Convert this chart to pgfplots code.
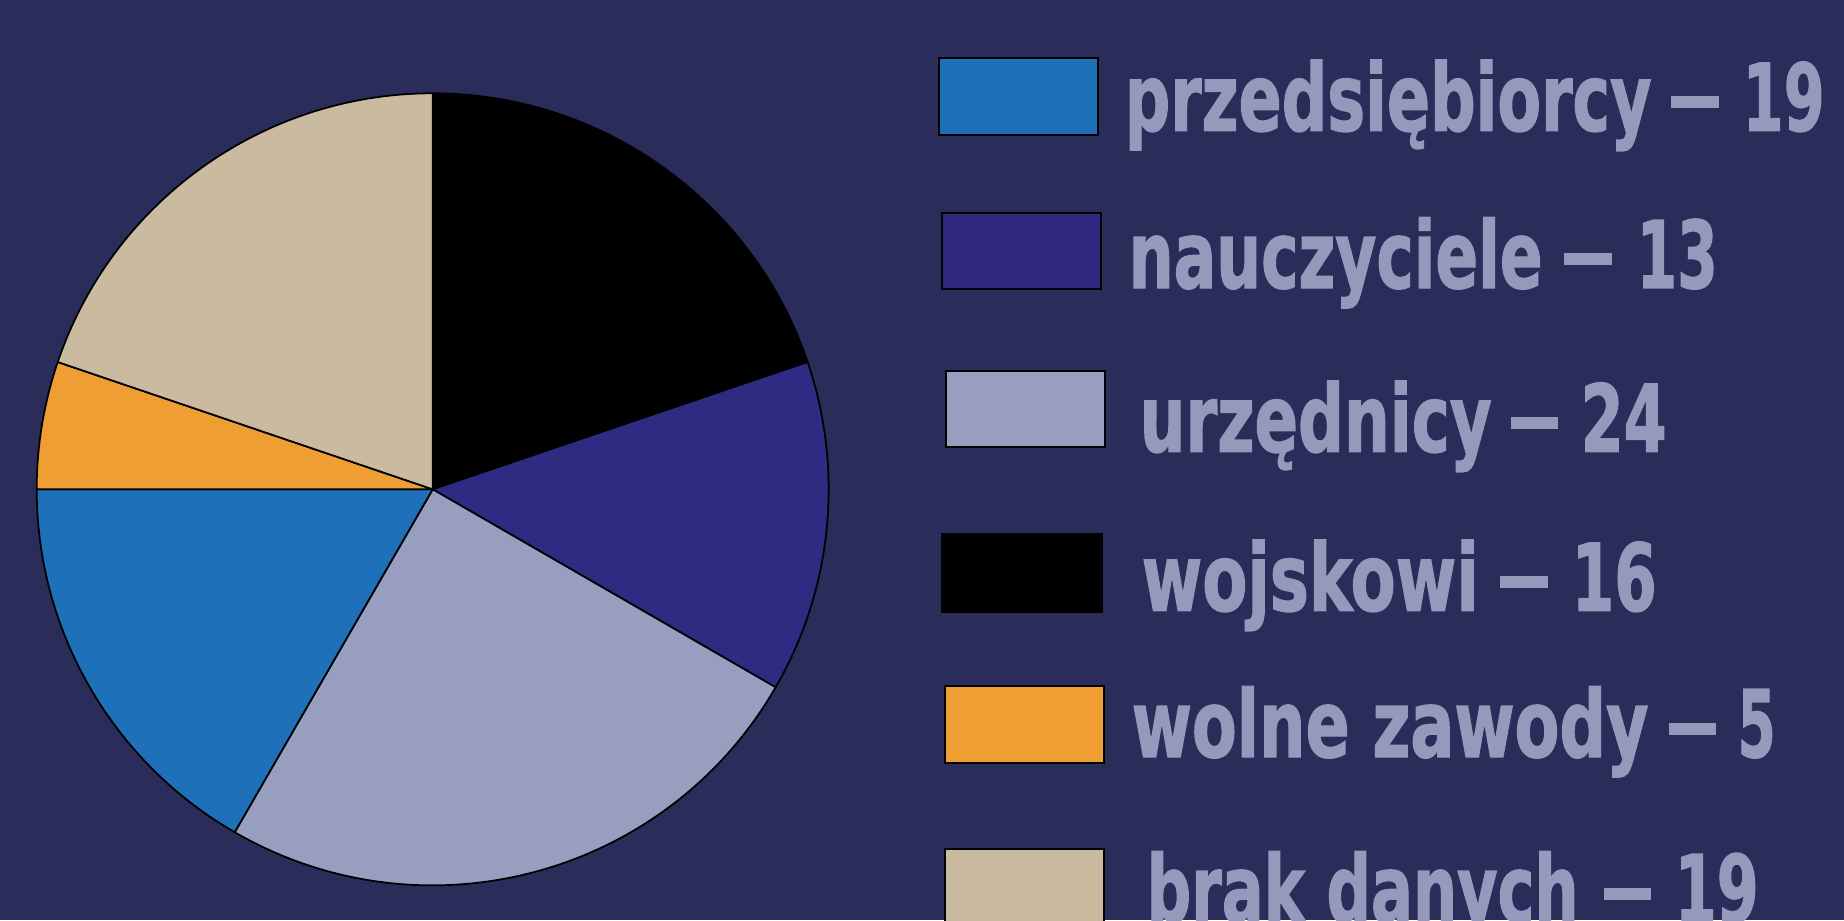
\documentclass[border=0pt]{standalone}
\usepackage{pgfplots}
\pgfplotsset{compat=1.18}
\usepackage{pgfplotstable}
\usepackage{graphicx}
\usepackage{fontspec}
\newfontfamily\legfont{DejaVu Sans Condensed}[BoldFeatures={FakeBold=1.5}]
\definecolor{bg}{HTML}{2A2D5A}
\definecolor{ctext}{HTML}{9599BB}
\definecolor{cblack}{HTML}{000000}
\definecolor{cnavy}{HTML}{2D2B82}
\definecolor{cnavyleg}{HTML}{312680}
\definecolor{clight}{HTML}{989EC0}
\definecolor{cblue}{HTML}{1E71B8}
\definecolor{corange}{HTML}{EE9E33}
\definecolor{cbeige}{HTML}{CABAA0}

% pie slices in drawing order (clockwise from 12 o'clock), as drawn in the chart
\pgfplotstableread{
value color
19 cblack
13 cnavy
24 clight
16 cblue
5 corange
19 cbeige
}\piedata

\newcommand\leg[2]{\resizebox{#1}{\height}{\fontsize{26.5}{30}\selectfont\legfont\bfseries #2}}
% legend line: baseline y, word x, word width, word, dash x1, dash x2, number x, number width, number
\newcommand\legline[9]{%
  \node[anchor=base west, inner sep=0pt, text=ctext] at (#2,#1) {\leg{#3cm}{#4}};
  \fill[ctext] (#5,#1+0.225) rectangle (#6,#1+0.345);
  \node[anchor=base west, inner sep=0pt, text=ctext] at (#7,#1) {\leg{#8cm}{#9}};
}

% precompute total
\pgfplotstablegetrowsof{\piedata}
\pgfmathtruncatemacro\nrows{\pgfplotsretval-1}
\def\pietotal{0}
\pgfplotsforeachungrouped \i in {0,...,\nrows}{%
  \pgfplotstablegetelem{\i}{value}\of\piedata
  \pgfmathsetmacro\pietotal{\pietotal+\pgfplotsretval}%
}

\begin{document}
\begin{tikzpicture}
\clip (0,0) rectangle (18.44,9.2);
\fill[bg] (0,0) rectangle (18.44,9.2);
\begin{axis}[at={(4.327cm,4.307cm)}, anchor=center, x=3.96cm, y=3.96cm,
  xmin=-1, xmax=1, ymin=-1, ymax=1, hide axis, clip=false, scale only axis]
\def\piecum{0}
\pgfplotsforeachungrouped \i in {0,...,\nrows}{%
  \pgfplotstablegetelem{\i}{value}\of\piedata
  \let\pieval\pgfplotsretval
  \pgfplotstablegetelem{\i}{color}\of\piedata
  \let\piecol\pgfplotsretval
  \pgfmathsetmacro\angA{90-\piecum/\pietotal*360}%
  \pgfmathsetmacro\angB{90-(\piecum+\pieval)/\pietotal*360}%
  \pgfmathsetmacro\pieX{cos(\angA)}%
  \pgfmathsetmacro\pieY{sin(\angA)}%
  \edef\doslice{\noexpand\filldraw[fill=\piecol,draw=black,line width=0.5pt,line join=round] (axis cs:0,0) -- (axis cs:\pieX,\pieY) arc[start angle=\angA,end angle=\angB,radius=1] -- cycle;}%
  \doslice
  \pgfmathsetmacro\piecum{\piecum+\pieval}%
}
\end{axis}
% legend
\filldraw[fill=cblue, draw=black, line width=0.8pt] (9.39,7.85) rectangle (10.98,8.62);
\filldraw[fill=cnavyleg, draw=black, line width=0.8pt] (9.42,6.31) rectangle (11.01,7.07);
\filldraw[fill=clight, draw=black, line width=0.8pt] (9.46,4.73) rectangle (11.05,5.49);
\filldraw[fill=cblack, draw=black, line width=0.8pt] (9.42,3.08) rectangle (11.02,3.86);
\filldraw[fill=corange, draw=black, line width=0.8pt] (9.45,1.57) rectangle (11.04,2.34);
\filldraw[fill=cbeige, draw=black, line width=0.8pt] (9.45,-0.06) rectangle (11.04,0.71);
\legline{7.893}{11.24}{5.27}{przedsiębiorcy}{16.71}{17.19}{17.42}{0.82}{19}
\legline{6.32}{11.28}{4.14}{nauczyciele}{15.64}{16.12}{16.36}{0.81}{13}
\legline{4.683}{11.39}{3.52}{urzędnicy}{15.11}{15.58}{15.80}{0.86}{24}
\legline{3.093}{11.41}{3.37}{wojskowi}{15.00}{15.48}{15.71}{0.85}{16}
\legline{1.63}{11.31}{5.17}{wolne zawody}{16.69}{17.16}{17.37}{0.38}{5}
\legline{-0.02}{11.46}{4.32}{brak danych}{16.04}{16.51}{16.74}{0.84}{19}
\end{tikzpicture}
\end{document}
